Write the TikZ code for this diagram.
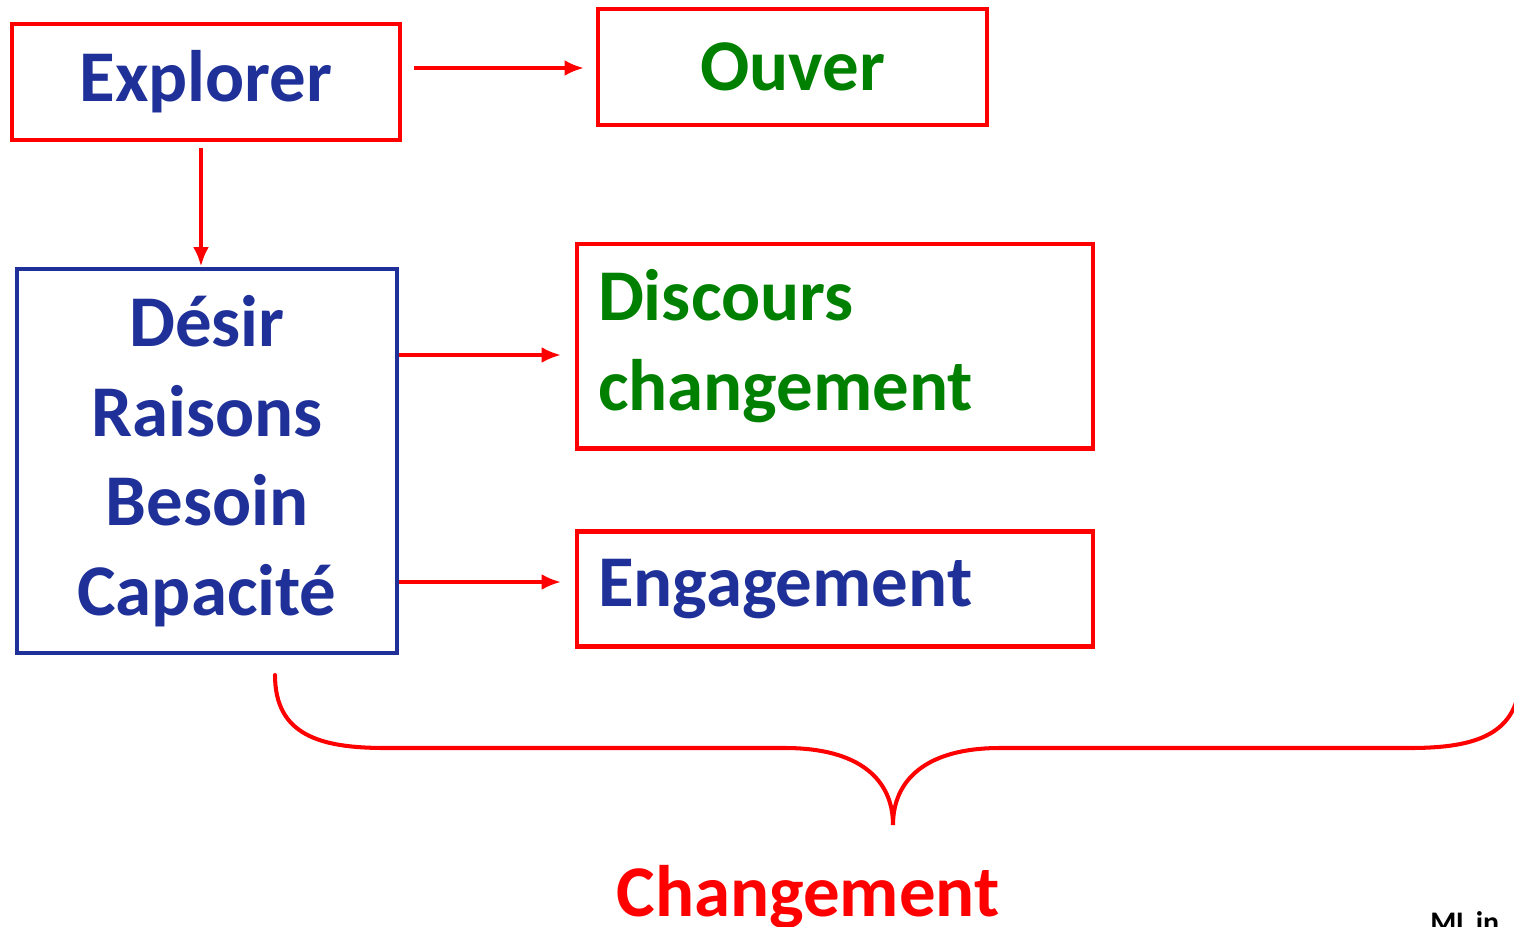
\documentclass[tikz,border=0pt]{standalone}
\usepackage{fontspec}
\setmainfont{Carlito}
\usetikzlibrary{arrows.meta}
\definecolor{bleufonce}{RGB}{31,49,153}
\definecolor{vertfonce}{RGB}{0,128,0}
\begin{document}
\begin{tikzpicture}[
  x=0.02cm, y=-0.02cm,
  box/.style={draw=red, line width=2.3pt, inner sep=0pt, font=\fontsize{41.5}{51}\selectfont\bfseries},
  bluebox/.style={box, draw=bleufonce, text=bleufonce, align=center},
  arrow/.style={draw=red, line width=2pt, -{Latex[length=11pt, width=9pt]}}
]
  \useasboundingbox (0,0) rectangle (1514,926);

  % Boîtes
  \node[box, text=bleufonce, minimum width=7.76cm, minimum height=2.32cm] (explorer) at (206,82) {Explorer};
  \node[box, text=vertfonce, minimum width=7.78cm, minimum height=2.32cm] (ouver) at (792.5,67) {Ouver};
  \node[bluebox, minimum width=7.6cm, minimum height=7.7cm] (desir) at (207,461)
    {Désir\\Raisons\\Besoin\\Capacité};
  \node[box, text=vertfonce, align=left, inner xsep=0.42cm, text width=9.48cm,
    minimum height=4.1cm] (discours) at (835,346) {Discours\\changement};
  \node[box, text=bleufonce, align=left, inner xsep=0.42cm, text width=9.48cm,
    minimum height=2.3cm] (engagement) at (835,589) {Engagement};

  % Flèches
  \draw[arrow] ([xshift=0.24cm]explorer.east |- 0,68) -- ([xshift=-0.24cm]ouver.west |- 0,68);
  \draw[arrow] ([xshift=-0.1cm,yshift=-0.12cm]explorer.south) -- ([xshift=-0.1cm]explorer.south |- desir.north);
  \draw[arrow] (desir.east |- 0,355) -- ([xshift=-0.28cm]discours.west |- 0,355);
  \draw[arrow] (desir.east |- 0,582) -- ([xshift=-0.28cm]engagement.west |- 0,582);

  % Accolade
  \coordinate (bout) at (893,825);
  \draw[red, line width=2.3pt, line cap=round]
    (275,675) .. controls (275,735) and (320,748) .. (385,748) -- (785,748)
    .. controls (860,748) and (893,780) .. (bout)
    .. controls (893,780) and (926,748) .. (1000,748) -- (1410,748)
    .. controls (1475,748) and (1520,735) .. (1520,675);

  % Textes
  \node[text=red, font=\fontsize{41.5}{50}\selectfont\bfseries] (changement) at (808,897) {Changement};
  \node[font=\fontsize{17}{20}\selectfont\bfseries, anchor=base west, inner sep=0pt] (mlin) at (1430,932) {ML in};
\end{tikzpicture}
\end{document}
